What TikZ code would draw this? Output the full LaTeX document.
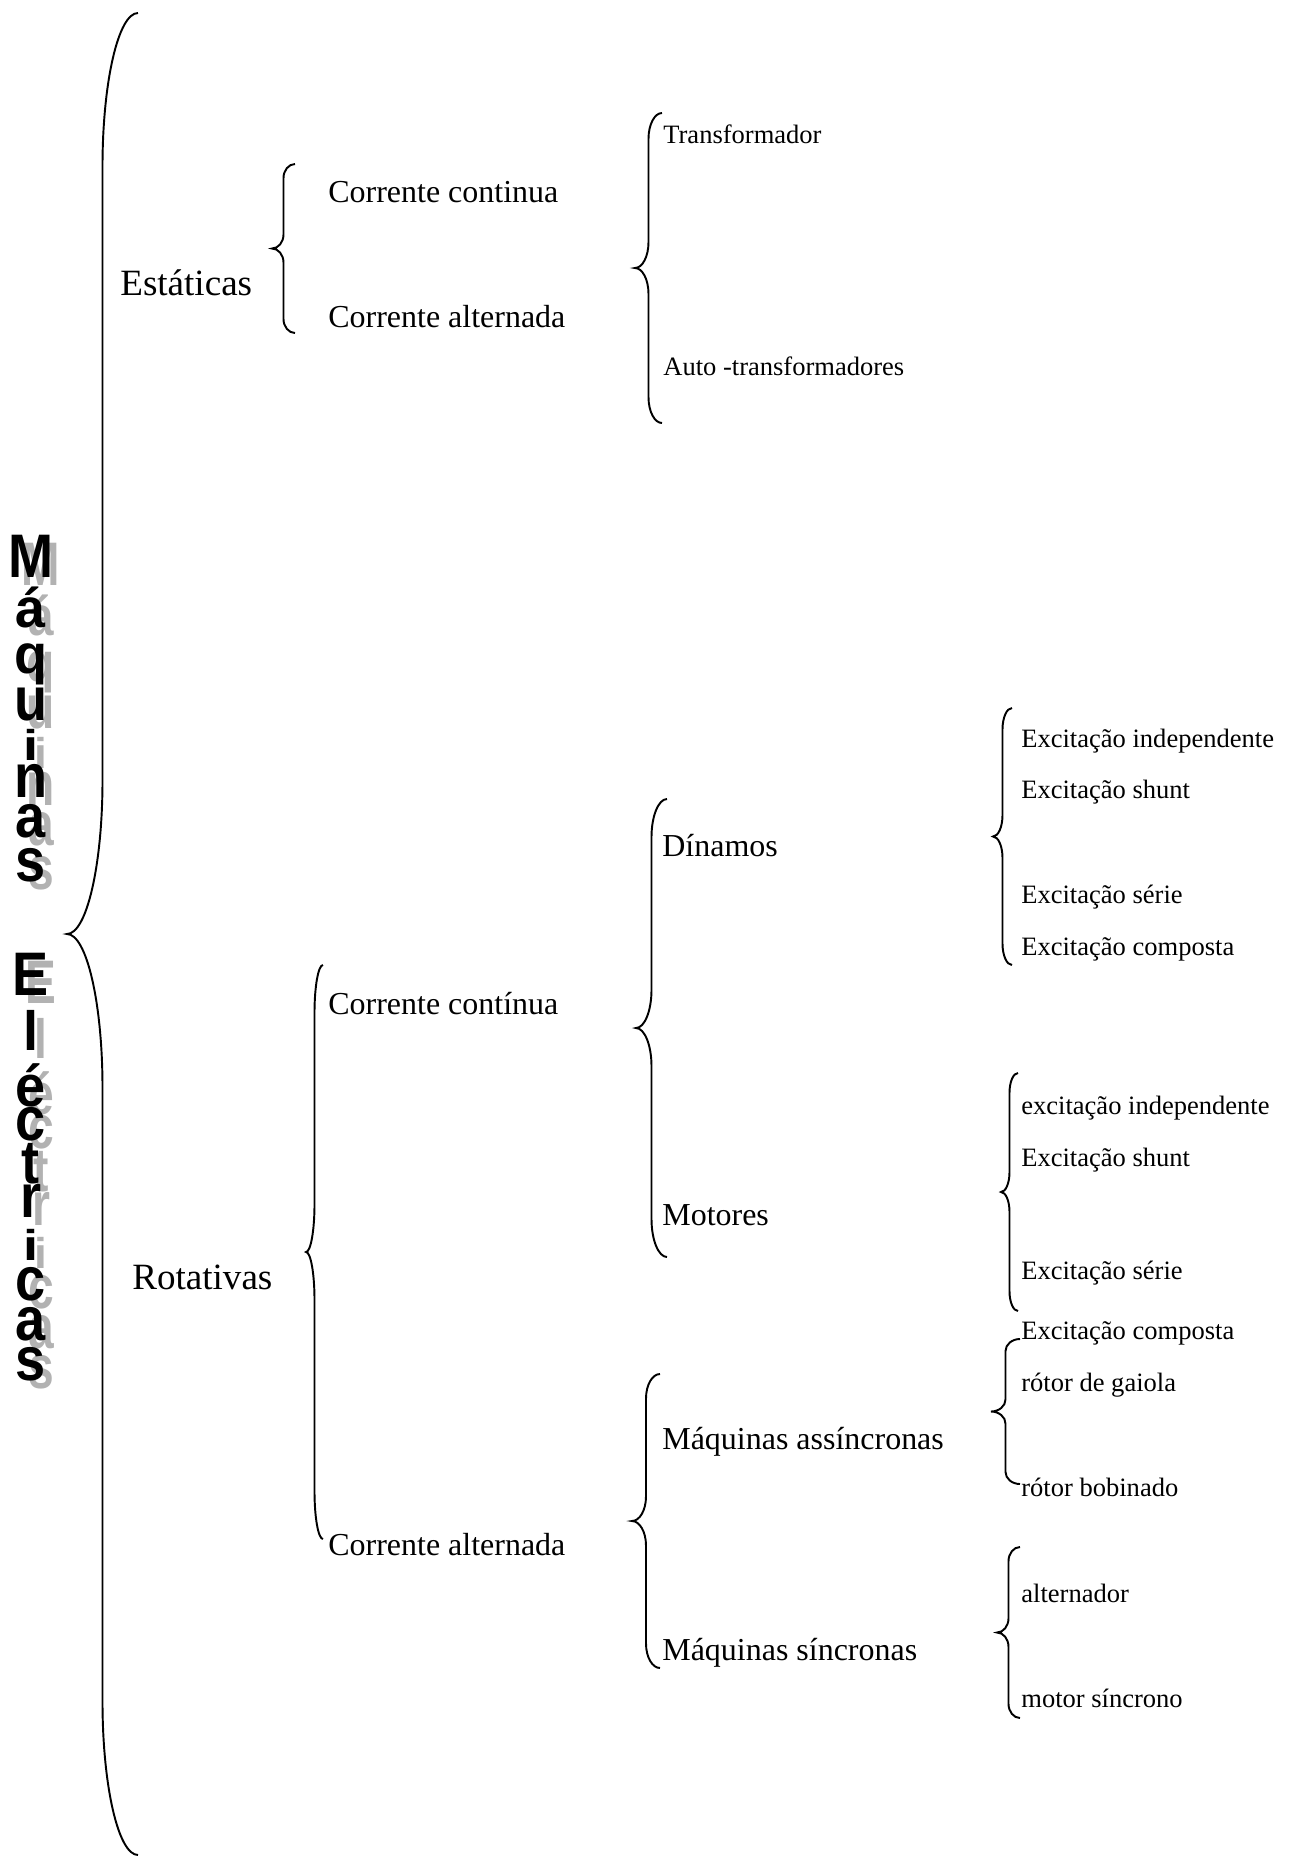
\documentclass[tikz,border=0pt]{standalone}
\usepackage{fontspec}
\setmainfont{Liberation Serif}
\newfontfamily\titlefont{Liberation Sans}

% Word-style curly brace: tip x, ends x, top y, bottom y
\newcommand{\wbrace}[4]{%
  \pgfmathsetmacro{\bw}{(#2-#1)/2}
  \pgfmathsetmacro{\bl}{#1+\bw}
  \pgfmathsetmacro{\ba}{(#4-#3)/12}
  \pgfmathsetmacro{\bm}{(#3+#4)/2}
  \draw[brace line] (#2,#3) .. controls ({#2-0.552*\bw},#3) and (\bl,{#3+0.448*\ba}) .. (\bl,{#3+\ba})
    -- (\bl,{\bm-\ba}) .. controls (\bl,{\bm-0.448*\ba}) and ({#1+0.552*\bw},\bm) .. (#1,\bm)
    .. controls ({#1+0.552*\bw},\bm) and (\bl,{\bm+0.448*\ba}) .. (\bl,{\bm+\ba})
    -- (\bl,{#4-\ba}) .. controls (\bl,{#4-0.448*\ba}) and ({#2-0.552*\bw},#4) .. (#2,#4);
}

% one title letter with its grey shadow (letter, vertical scale)
\newcommand{\shletter}[2]{%
  \makebox[0pt]{\kern11.4pt\raisebox{-5.1pt}{\color{black!30}\scalebox{0.75}[#2]{#1}}}%
  \makebox[0pt]{\scalebox{0.88}[#2]{#1}}}

\tikzset{
  brace line/.style={black, line width=1.1pt},
  top/.style={anchor=base west, inner sep=0pt, font=\fontsize{21.1}{24}\selectfont},
  big/.style={anchor=base west, inner sep=0pt, font=\fontsize{18.2}{21}\selectfont},
  small/.style={anchor=base west, inner sep=0pt, font=\fontsize{15.1}{18}\selectfont},
  letter/.style={anchor=base, inner sep=0pt, font=\titlefont\bfseries\fontsize{35}{38}\selectfont},
}

\begin{document}
\begin{tikzpicture}[x=0.02cm, y=-0.02cm]

\useasboundingbox (0,0) rectangle (1292,1857);

% title, one letter under the other
\foreach \c/\y/\s in {M/577/1, á/627/0.9, q/673/0.9, u/720/1, i/760/0.7, n/797/1, a/837/1, s/881/1,
                      E/995/1, l/1050/0.9, é/1106/0.95, c/1140/1, t/1183/1, r/1217/1, i/1260/0.7,
                      c/1300/1, a/1340/1, s/1380/1} {
  \node[letter] (ltr-\y) at (31,\y) {\shletter{\c}{\s}};
}

% main brace
\wbrace{67}{138}{13}{1855}

% static machines
\node[top] (estaticas) at (120,295) {Estáticas};
\wbrace{272}{295}{164}{333}
\node[big] (cc1) at (328,202) {Corrente continua};
\node[big] (ca1) at (328,327) {Corrente alternada};
\wbrace{635}{662}{113}{423}
\node[small] (transf) at (663,143) {Transformador};
\node[small] (autotransf) at (663,375) {Auto -transformadores};

% rotating machines
\node[top] (rotativas) at (132,1289) {Rotativas};
\wbrace{306}{323}{965}{1539}
\node[big] (cc2) at (328,1014) {Corrente contínua};
\node[big] (ca2) at (328,1555) {Corrente alternada};

\wbrace{636}{667}{799}{1257}
\node[big] (dinamos) at (662,856) {Dínamos};
\node[big] (motores) at (662,1225) {Motores};

\wbrace{632}{660}{1374}{1668}
\node[big] (assinc) at (662,1449) {Máquinas assíncronas};
\node[big] (sinc) at (662,1660) {Máquinas síncronas};

% dinamos
\wbrace{993}{1012}{708}{965}
\node[small] (d-ind) at (1021,747) {Excitação independente};
\node[small] (d-shunt) at (1021,798) {Excitação shunt};
\node[small] (d-serie) at (1021,903) {Excitação série};
\node[small] (d-comp) at (1021,955) {Excitação composta};

% motores
\wbrace{1001}{1018}{1073}{1311}
\node[small] (m-ind) at (1021,1114) {excitação independente};
\node[small] (m-shunt) at (1021,1166) {Excitação shunt};
\node[small] (m-serie) at (1021,1279) {Excitação série};
\node[small] (m-comp) at (1021,1339) {Excitação composta};

% assincronas
\wbrace{991}{1020}{1339}{1484}
\node[small] (gaiola) at (1021,1391) {rótor de gaiola};
\node[small] (bobinado) at (1021,1496) {rótor bobinado};

% sincronas
\wbrace{997}{1020}{1547}{1718}
\node[small] (altern) at (1021,1602) {alternador};
\node[small] (msinc) at (1021,1707) {motor síncrono};

\end{tikzpicture}
\end{document}
